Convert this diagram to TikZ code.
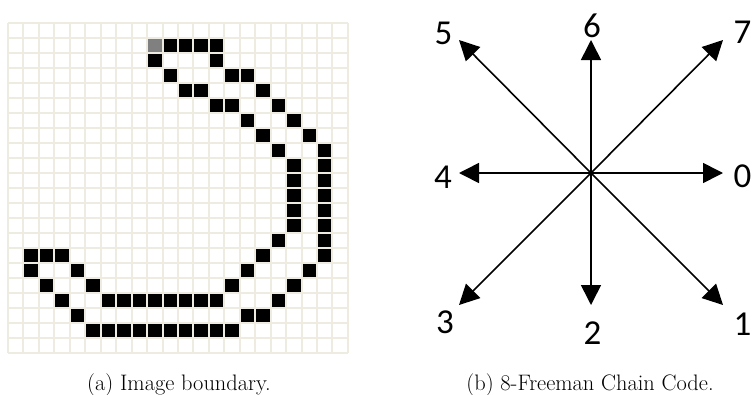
\documentclass[tikz,border=0pt]{standalone}
\usepackage{fontspec}
\newfontfamily\carl{Carlito}
\usetikzlibrary{arrows.meta}
\definecolor{gridline}{HTML}{EEEBE0}
\definecolor{startpix}{HTML}{808080}
\tikzset{
  pix/.style={fill=black},
  gridln/.style={draw=gridline, line width=2pt},
  dirarrow/.style={line width=1.6pt, -{Triangle[length=20pt,width=20pt]}},
  dirlabel/.style={font=\carl\fontsize{35}{40}\selectfont, inner sep=0pt},
  captext/.style={font=\fontsize{22.4}{26}\selectfont, inner sep=0pt, anchor=base}
}
\begin{document}
\begin{tikzpicture}[x=1pt,y=-1pt]
\useasboundingbox (0,0) rectangle (752,394);
\def\gx{8}\def\gy{23.3}\def\cw{15.45}\def\ch{15}
% ---- (a) image boundary ----
\fill[startpix] (\gx+9*\cw,\gy+1*\ch) rectangle ++(\cw,\ch);
\foreach \c/\r in {10/1,11/1,12/1,13/1,
  9/2,13/2,
  10/3,14/3,15/3,
  11/4,12/4,16/4,
  13/5,14/5,17/5,
  15/6,18/6,
  16/7,19/7,
  17/8,20/8,
  18/9,20/9,
  18/10,20/10,
  18/11,20/11,
  18/12,20/12,
  18/13,20/13,
  17/14,20/14,
  1/15,2/15,3/15,16/15,20/15,
  1/16,4/16,15/16,19/16,
  2/17,5/17,14/17,18/17,
  3/18,6/18,7/18,8/18,9/18,10/18,11/18,12/18,13/18,17/18,
  4/19,15/19,16/19,
  5/20,6/20,7/20,8/20,9/20,10/20,11/20,12/20,13/20,14/20}
  \fill[pix] (\gx+\c*\cw,\gy+\r*\ch) rectangle ++(\cw,\ch);
\foreach \i in {0,...,22}{
  \draw[gridln] (\gx+\i*\cw,\gy) -- ++(0,22*\ch);
  \draw[gridln] (\gx,\gy+\i*\ch) -- ++(22*\cw,0);
}
\node[captext] (capa) at (179,390) {(a) Image boundary.};
% ---- (b) 8-Freeman chain code ----
\coordinate (o) at (591,173);
\coordinate (t0) at (723,173);
\coordinate (t1) at (723,305);
\coordinate (t2) at (591,305);
\coordinate (t3) at (459,305);
\coordinate (t4) at (459,173);
\coordinate (t5) at (459,40);
\coordinate (t6) at (591,40);
\coordinate (t7) at (723,40);
\foreach \k in {0,...,7} \draw[dirarrow] (o) -- (t\k);
\node[dirlabel] (l0) at (742.5,176) {0};
\node[dirlabel] (l1) at (742.5,324) {1};
\node[dirlabel] (l2) at (592.5,333) {2};
\node[dirlabel] (l3) at (445,322) {3};
\node[dirlabel] (l4) at (443,177) {4};
\node[dirlabel] (l5) at (443.5,33) {5};
\node[dirlabel] (l6) at (592,25.5) {6};
\node[dirlabel] (l7) at (742.5,32) {7};
\node[captext] (capb) at (590,390) {(b) 8-Freeman Chain Code.};
\end{tikzpicture}
\end{document}
